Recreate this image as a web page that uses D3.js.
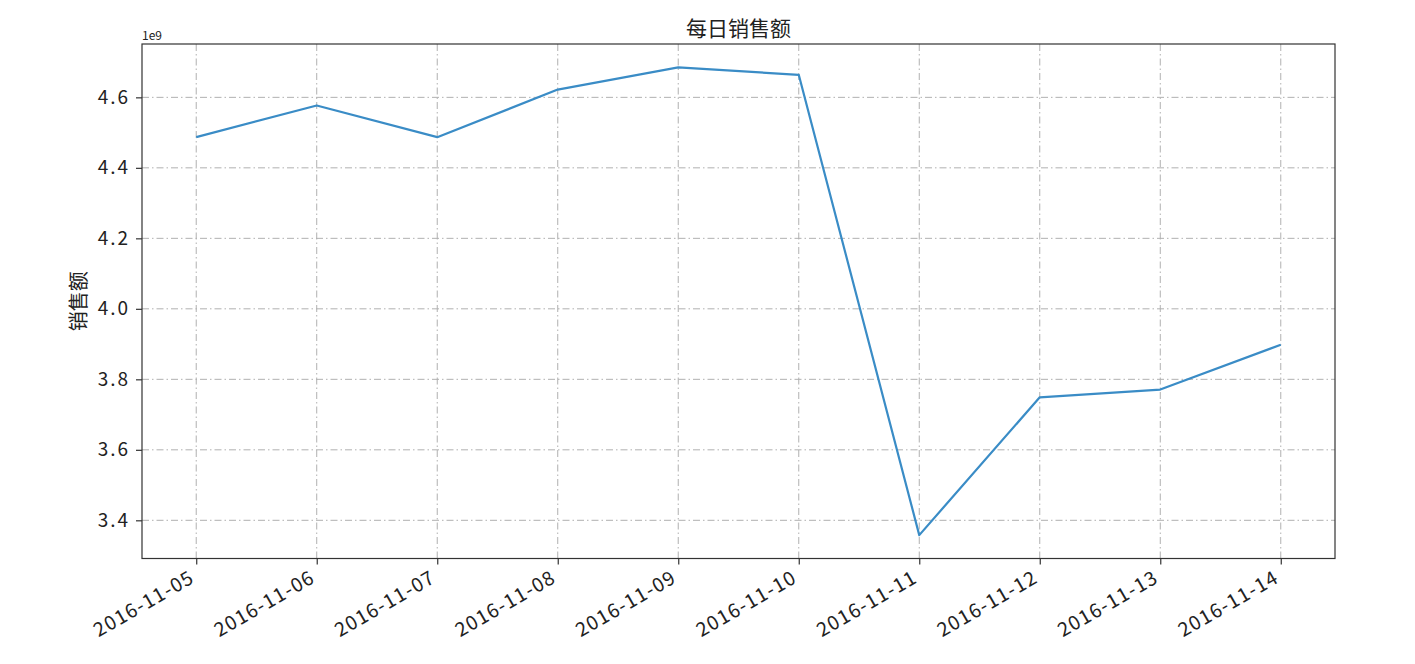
<!DOCTYPE html>
<html><head><meta charset="utf-8">
<script src="https://cdn.jsdelivr.net/npm/d3@7"></script>
<style>
body{margin:0;background:#fff;}
text{font-family:"Noto Sans CJK SC","DejaVu Sans",sans-serif;fill:#222;}
</style></head>
<body><svg id="c" width="1415" height="664"></svg>
<script>
const dates = ["2016-11-05","2016-11-06","2016-11-07","2016-11-08","2016-11-09","2016-11-10","2016-11-11","2016-11-12","2016-11-13","2016-11-14"];
const sales = [4.487e9,4.577e9,4.487e9,4.622e9,4.685e9,4.664e9,3.358e9,3.749e9,3.771e9,3.898e9];
const yTicks = [3.4e9,3.6e9,3.8e9,4.0e9,4.2e9,4.4e9,4.6e9];
const title = "每日销售额";
const yLabel = "销售额";

const svg = d3.select("#c");
const L=142, R=1335, T=44, B=558.5;
const lo=d3.min(sales), hi=d3.max(sales), pad=(hi-lo)*0.05;
const x = d3.scalePoint().domain(dates).range([L,R]).padding(0.45);
const y = d3.scaleLinear().domain([lo-pad,hi+pad]).range([B,T]);

// grid
const g = svg.append("g");
g.selectAll("line.v").data(dates).join("line")
 .attr("x1",d=>x(d)).attr("x2",d=>x(d)).attr("y1",T).attr("y2",B)
 .attr("stroke","#b0b0b0").attr("stroke-width",1).attr("stroke-dasharray","7,3,1.5,3");
g.selectAll("line.h").data(yTicks).join("line")
 .attr("x1",L).attr("x2",R).attr("y1",d=>y(d)).attr("y2",d=>y(d))
 .attr("stroke","#b0b0b0").attr("stroke-width",1).attr("stroke-dasharray","7,3,1.5,3");

// line
svg.append("path").datum(sales)
 .attr("fill","none").attr("stroke","#3a8cc6").attr("stroke-width",2.2)
 .attr("stroke-linejoin","round")
 .attr("d",d3.line().x((d,i)=>x(dates[i])).y(d=>y(d)));

// frame
svg.append("rect").attr("x",L).attr("y",T).attr("width",R-L).attr("height",B-T)
 .attr("fill","none").attr("stroke","#333").attr("stroke-width",1.2);

// y axis
const ya = svg.append("g").attr("transform",`translate(${L},0)`)
 .call(d3.axisLeft(y).tickValues(yTicks).tickSize(6).tickPadding(6).tickFormat(d=>(d/1e9).toFixed(1)));
ya.select(".domain").remove();
ya.selectAll(".tick line").attr("stroke","#333").attr("stroke-width",1.2);
ya.selectAll(".tick text").style("font-size","19px").style("letter-spacing","2px").style("font-family","'Noto Sans CJK SC',sans-serif").attr("fill","#222");

// x axis
const xa = svg.append("g").attr("transform",`translate(0,${B})`)
 .call(d3.axisBottom(x).tickSize(6).tickPadding(0));
xa.select(".domain").remove();
xa.selectAll(".tick line").attr("stroke","#333").attr("stroke-width",1.2);
xa.selectAll(".tick text").style("font-size","19.5px").style("letter-spacing","1.2px").style("font-family","'Noto Sans CJK SC',sans-serif")
 .attr("fill","#222").attr("text-anchor","end").attr("dy",null).attr("y",null)
 .attr("transform","translate(-1,23) rotate(-30)");

// title, labels
svg.append("text").attr("x",(L+R)/2).attr("y",36).attr("text-anchor","middle")
 .style("font-size","21px").text(title);
svg.append("text").attr("transform",`translate(86,${(T+B)/2}) rotate(-90)`).attr("text-anchor","middle")
 .style("font-size","20px").text(yLabel);
svg.append("text").attr("x",L).attr("y",40).style("font-size","12px").text("1e9");
</script></body></html>
